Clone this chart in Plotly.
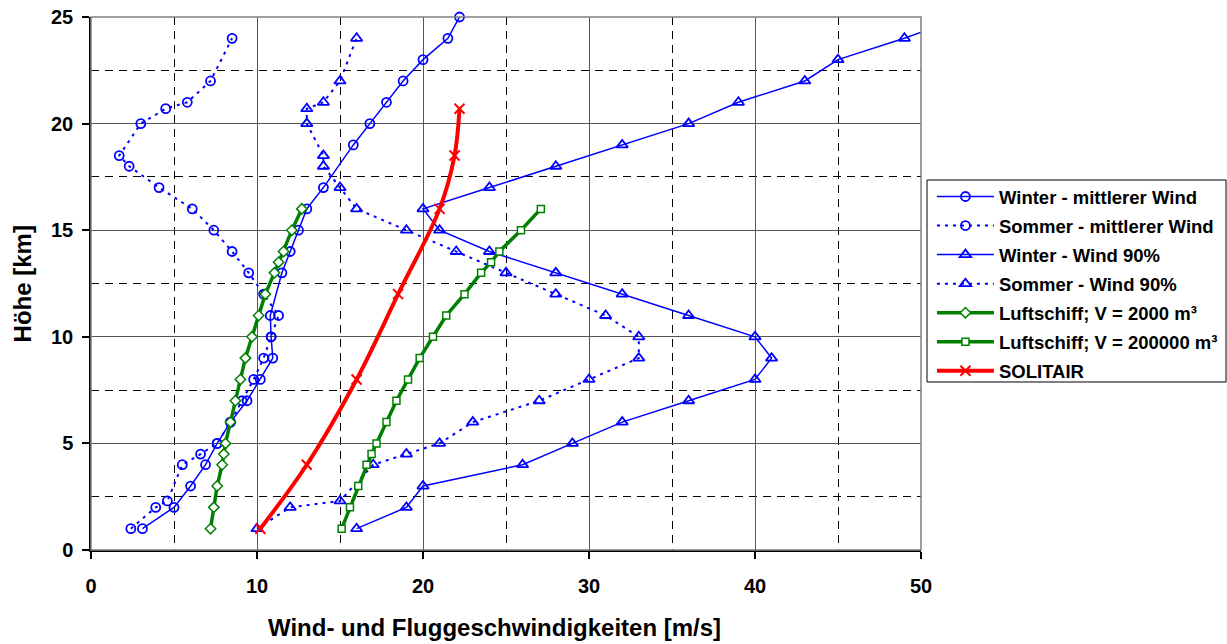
import plotly.graph_objects as go

# ---------------- data ----------------
winter_mean_h = [1, 2, 3, 4, 5, 6, 7, 8, 9, 10, 11, 13, 14, 15, 16, 17, 19, 20, 21, 22, 23, 24, 25]
winter_mean_v = [3.1, 5.0, 6.0, 6.9, 7.6, 8.4, 9.4, 10.2, 10.95, 10.85, 10.8, 11.5, 12.0, 12.5, 13.0,
                 14.0, 15.8, 16.8, 17.8, 18.8, 20.0, 21.5, 22.2]

summer_mean_h = [1, 2, 2.3, 4, 4.5, 5, 6, 7, 8, 9, 10, 11, 12, 13, 14, 15, 16, 17, 18, 18.5, 20, 20.7, 21, 22, 24]
summer_mean_v = [2.4, 3.9, 4.6, 5.5, 6.6, 7.6, 8.4, 9.1, 9.8, 10.4, 10.85, 11.3, 10.4, 9.5, 8.5, 7.4,
                 6.1, 4.1, 2.3, 1.7, 3.0, 4.5, 5.8, 7.2, 8.5]

winter90_h = [1, 2, 3, 4, 5, 6, 7, 8, 9, 10, 11, 12, 13, 14, 15, 16, 17, 18, 19, 20, 21, 22, 23, 24, 25]
winter90_v = [16, 19, 20, 26, 29, 32, 36, 40, 41, 40, 36, 32, 28, 24, 21, 20, 24, 28, 32, 36, 39, 43,
              45, 49, 52.5]

summer90_h = [1, 2, 2.3, 4, 4.5, 5, 6, 7, 8, 9, 10, 11, 12, 13, 14, 15, 16, 17, 18, 18.5, 20, 20.7, 21, 22, 24]
summer90_v = [10, 12, 15, 17, 19, 21, 23, 27, 30, 33, 33, 31, 28, 25, 22, 19, 16, 15, 14, 14, 13, 13,
              14, 15, 16]

airship_h = [1, 2, 3, 4, 4.5, 5, 6, 7, 8, 9, 10, 11, 12, 13, 13.5, 14, 15, 16]
airship2000_v = [7.2, 7.4, 7.6, 7.9, 8.0, 8.1, 8.4, 8.7, 9.0, 9.3, 9.7, 10.1, 10.5, 11.05, 11.3, 11.6,
                 12.1, 12.7]
airship200000_v = [15.1, 15.6, 16.1, 16.6, 16.9, 17.2, 17.8, 18.4, 19.1, 19.8, 20.6, 21.4, 22.5, 23.5,
                   24.1, 24.6, 25.9, 27.1]

solitair_h = [1, 4, 8, 12, 16, 18.5, 20.7]
solitair_v = [10.2, 13.0, 16.0, 18.5, 21.0, 21.9, 22.2]

names = ["Winter - mittlerer Wind", "Sommer - mittlerer Wind", "Winter - Wind 90%",
         "Sommer - Wind 90%", "Luftschiff; V = 2000 m³", "Luftschiff; V = 200000 m³", "SOLITAIR"]

x_ticks = [0, 10, 20, 30, 40, 50]
y_ticks = [0, 5, 10, 15, 20, 25]

# ---------------- figure ----------------
FONT = "Liberation Sans, Arial, sans-serif"
BLUE = "#0000FF"
GREEN = "#008000"
RED = "#FF0000"
DOT = "3px,5px"

fig = go.Figure()

def add(x, y, name, color, width, dash, symbol, size, mlw, clip=True, shape="linear"):
    fig.add_trace(go.Scatter(
        x=x, y=y, name=name, mode="lines+markers",
        line=dict(color=color, width=width, dash=dash, shape=shape),
        marker=dict(symbol=symbol, size=size, color="white" if "open" not in symbol else color,
                    line=dict(color=color, width=mlw)),
        cliponaxis=clip, legendgroup=name,
    ))

add(winter_mean_v, winter_mean_h, names[0], BLUE, 1.5, "solid", "circle-open", 9, 1.8, clip=False)
add(summer_mean_v, summer_mean_h, names[1], BLUE, 2, DOT, "circle-open", 9, 1.8)
add(winter90_v, winter90_h, names[2], BLUE, 1.5, "solid", "triangle-up-open", 10, 1.8)
add(summer90_v, summer90_h, names[3], BLUE, 2, DOT, "triangle-up-open", 10, 1.8)
add(airship2000_v, airship_h, names[4], GREEN, 3.5, "solid", "diamond", 8, 1.5)
add(airship200000_v, airship_h, names[5], GREEN, 3.5, "solid", "square", 7, 1.5)
add(solitair_v, solitair_h, names[6], RED, 4, "solid", "x-thin-open", 10, 2, shape="spline")

axis_common = dict(
    showline=True, linecolor="black", linewidth=1.5,
    ticks="outside", ticklen=7, tickwidth=1.5, tickcolor="black",
    showgrid=True, gridcolor="#555555", gridwidth=1,
    zeroline=False,
    tickfont=dict(family=FONT, size=20, color="black", weight="bold"),
)

fig.update_xaxes(range=[0, 50], tickvals=x_ticks, ticklabelstandoff=10,
                 minor=dict(dtick=5, showgrid=True, gridcolor="black", griddash="8px,6px",
                            gridwidth=1, ticks=""),
                 **axis_common)
fig.update_yaxes(range=[0, 25], tickvals=y_ticks, ticklabelstandoff=5,
                 minor=dict(dtick=2.5, showgrid=True, gridcolor="black", griddash="8px,6px",
                            gridwidth=1, ticks=""),
                 **axis_common)

# plot-area frame
fig.add_shape(type="rect", xref="paper", yref="paper", x0=0, y0=0, x1=1, y1=1,
              line=dict(color="#808080", width=1.5), layer="above")
# legend frame (927..1226 px, 180..382 px)
fig.add_shape(type="rect", xref="paper", yref="paper", x0=1.00723, x1=1.3675, y0=0.3152, y1=0.6942,
              line=dict(color="black", width=1), fillcolor="white", layer="below")

fig.add_annotation(text="Höhe [km]", xref="paper", yref="paper", x=-0.082, y=0.5,
                   xanchor="center", yanchor="middle", textangle=-90, showarrow=False,
                   font=dict(family=FONT, size=24, color="black", weight="bold"))
fig.add_annotation(text="Wind- und Fluggeschwindigkeiten [m/s]", xref="paper", yref="paper",
                   x=0.4867, y=-0.1445, xanchor="center", yanchor="middle", showarrow=False,
                   font=dict(family=FONT, size=24, color="black", weight="bold"))

fig.update_layout(
    width=1227, height=644,
    margin=dict(l=91, r=306, t=17, b=94, autoexpand=False),
    plot_bgcolor="white", paper_bgcolor="white",
    font=dict(family=FONT, color="black"),
    legend=dict(x=1.0132, y=0.698, xanchor="left", yanchor="top",
                bgcolor="rgba(0,0,0,0)", borderwidth=0,
                font=dict(family=FONT, size=18.5, color="black", weight="bold"),
                itemwidth=57, tracegroupgap=2, traceorder="grouped"),
    showlegend=True,
)

fig.write_html("out.html")
